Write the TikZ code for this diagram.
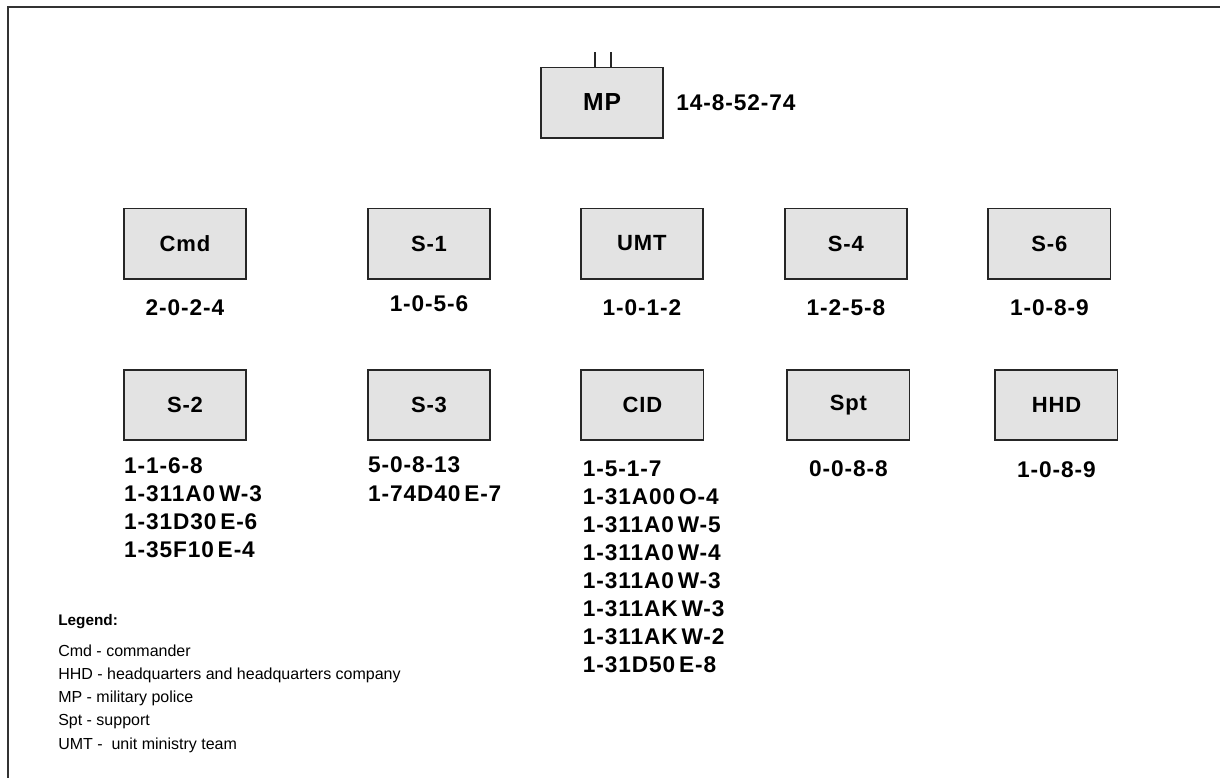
\documentclass[tikz,border=0pt]{standalone}
\usepackage{fontspec}
\setmainfont{Liberation Sans}
\newfontfamily\spacedfont[LetterSpace=4]{Liberation Sans}
\usetikzlibrary{positioning}

\begin{document}
\begin{tikzpicture}[x=0.75pt,y=-0.75pt,
  unit/.style={draw=black!85,line width=1.3pt,fill=gray!22,outer sep=0pt,inner sep=0pt,minimum width=91.7pt,minimum height=52.7pt,font=\spacedfont\fontsize{16.5}{20}\selectfont\bfseries},
  num/.style={inner sep=0pt,font=\spacedfont\fontsize{17}{21}\selectfont\bfseries},
  numlist/.style={num,align=left},
  legtxt/.style={inner sep=0pt,align=left,font=\fontsize{12}{17.4}\selectfont}]
\useasboundingbox (0,0) rectangle (1220,778);
% frame
\draw[line width=1.5pt,black!80] (1220,7) -- (8,7) -- (8,778);
% top unit
\node[unit,font=\spacedfont\fontsize{18.5}{22}\selectfont\bfseries] (mp) at (602,102.5) {MP};
\node[num,right=9.75pt of mp] (mpnum) {14-8-52-74};
\coordinate[above=11.25pt of mp.north,xshift=-5.25pt] (tickl);
\coordinate[above=11.25pt of mp.north,xshift=6.75pt] (tickr);
\draw[line width=1.1pt,black!85] (tickl) -- (tickl |- mp.north);
\draw[line width=1.1pt,black!85] (tickr) -- (tickr |- mp.north);
% first row
\node[unit] (cmd) at (185,243.5) {Cmd};
\node[unit,right=91.3pt of cmd] (s1) {S-1};
\node[unit,right=68pt of s1] (umt) {UMT};
\node[unit,right=61.3pt of umt] (s4) {S-4};
\node[unit,right=60.9pt of s4] (s6) {S-6};
\node[num,below=15.5pt of cmd] (cmdnum) {2-0-2-4};
\node[num,below=12.5pt of s1] (s1num) {1-0-5-6};
\node[num,below=15.5pt of umt] (umtnum) {1-0-1-2};
\node[num,below=15.5pt of s4] (s4num) {1-2-5-8};
\node[num,below=15.5pt of s6] (s6num) {1-0-8-9};
% second row
\node[unit,below=68.4pt of cmd] (s2) {S-2};
\node[unit,right=91.3pt of s2] (s3) {S-3};
\node[unit,right=68.4pt of s3] (cid) {CID};
\node[unit,right=62.8pt of cid] (spt) {Spt};
\node[unit,right=64.3pt of spt] (hhd) {HHD};
\node[numlist,below right=12.6pt and 0pt of s2.south west] (s2num)
  {1-1-6-8\\1-311A0\,W-3\\1-31D30\,E-6\\1-35F10\,E-4};
\node[numlist,below right=12.6pt and 0pt of s3.south west] (s3num)
  {5-0-8-13\\1-74D40\,E-7};
\node[numlist,below right=15.6pt and 1pt of cid.south west] (cidnum)
  {1-5-1-7\\1-31A00\,O-4\\1-311A0\,W-5\\1-311A0\,W-4\\1-311A0\,W-3\\1-311AK\,W-3\\1-311AK\,W-2\\1-31D50\,E-8};
\node[num,below=15pt of spt] (sptnum) {0-0-8-8};
\node[num,below=16pt of hhd] (hhdnum) {1-0-8-9};
% legend
\node[inner sep=0pt,anchor=base west,font=\fontsize{11.5}{14}\selectfont\bfseries] (legend) at (58,625) {Legend:};
\node[legtxt,below right=12pt and 0pt of legend.south west] (legtext)
  {Cmd - commander\\HHD - headquarters and headquarters company\\MP - military police\\Spt - support\\UMT - \ unit ministry team};
\end{tikzpicture}
\end{document}
